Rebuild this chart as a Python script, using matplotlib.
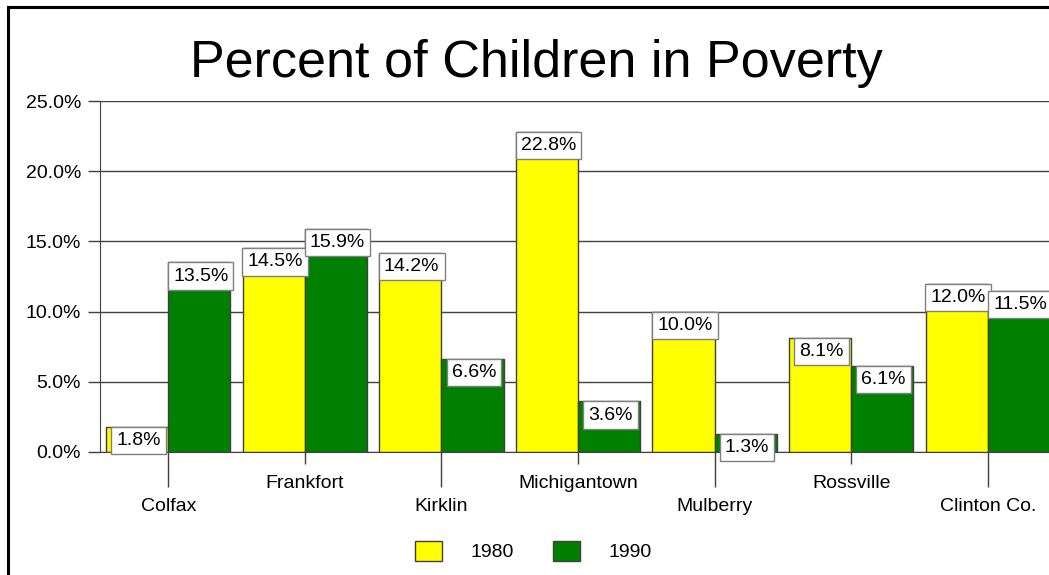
import matplotlib.pyplot as plt
import numpy as np
from matplotlib.lines import Line2D
from matplotlib.patches import Patch

plt.rcParams["font.family"] = ["Liberation Sans", "DejaVu Sans"]

# Data
towns = ["Colfax", "Frankfort", "Kirklin", "Michigantown", "Mulberry", "Rossville", "Clinton Co."]
pct_1980 = [1.8, 14.5, 14.2, 22.8, 10.0, 8.1, 12.0]
pct_1990 = [13.5, 15.9, 6.6, 3.6, 1.3, 6.1, 11.5]
y_ticks = [0, 5, 10, 15, 20, 25]
y_labels = ["0.0%", "5.0%", "10.0%", "15.0%", "20.0%", "25.0%"]

yellow = "#ffff00"
green = "#008000"
edge = "#404040"

fig = plt.figure(figsize=(10.49, 5.75), dpi=100)
# plot area runs off the right edge like the original
ax = fig.add_axes([100 / 1049, 123 / 575, 956 / 1049, 351 / 575])

x = np.arange(len(towns))
w = 0.455
ax.bar(x - w / 2, pct_1980, w, color=yellow, edgecolor=edge, linewidth=1, zorder=2)
ax.bar(x + w / 2, pct_1990, w, color=green, edgecolor=edge, linewidth=1, zorder=2)

# value labels in white boxes hanging from the bar tops
pad = 0.26
for xs, vals in [(x - w / 2, pct_1980), (x + w / 2, pct_1990)]:
    for xi, v in zip(xs, vals):
        ax.annotate(f"{v:.1f}%", (xi, v), xytext=(1, -pad * 14), textcoords="offset points",
                    ha="center", va="top", fontsize=14, zorder=5, annotation_clip=False,
                    bbox=dict(boxstyle=f"square,pad={pad}", fc="white", ec="#808080", lw=1))

ax.set_xlim(-0.5, len(towns) - 0.5)
ax.set_ylim(0, 25)
ax.set_yticks(y_ticks, y_labels, fontsize=14)
ax.tick_params(axis="y", length=8.6, width=1, color=edge, pad=5)
ax.yaxis.grid(True, color=edge, linewidth=1)
ax.set_axisbelow(True)

# staggered category labels: long ticks for even, short for odd
ax.set_xticks(x[::2], towns[::2], fontsize=14)
ax.set_xticks(x[1::2], towns[1::2], minor=True, fontsize=14)
ax.tick_params(axis="x", which="major", length=25, width=1, color=edge, pad=8)
ax.tick_params(axis="x", which="minor", length=8.6, width=1, color=edge, pad=8)

for s in ["top", "right"]:
    ax.spines[s].set_visible(False)
ax.spines["left"].set_color(edge)
ax.spines["bottom"].set_color(edge)

fig.text(536 / 1049, 1 - 77 / 575, "Percent of Children in Poverty", fontsize=37.5,
         ha="center", va="baseline")

handles = [Patch(fc=yellow, ec=edge, lw=1), Patch(fc=green, ec=edge, lw=1)]
fig.legend(handles, ["1980", "1990"], loc="center", bbox_to_anchor=(533 / 1049, 1 - 551 / 575),
           ncol=2, frameon=False, fontsize=14, handlelength=1.43, handleheight=1.23,
           handletextpad=1.43, columnspacing=2.0)

# outer frame (only top and left visible in the original)
fig.add_artist(Line2D([8 / 1049, 1.0], [1 - 7 / 575, 1 - 7 / 575], color="black", lw=2.2))
fig.add_artist(Line2D([8 / 1049, 8 / 1049], [0, 1 - 7 / 575], color="black", lw=2.2))

fig.savefig("out.png", dpi=100)
